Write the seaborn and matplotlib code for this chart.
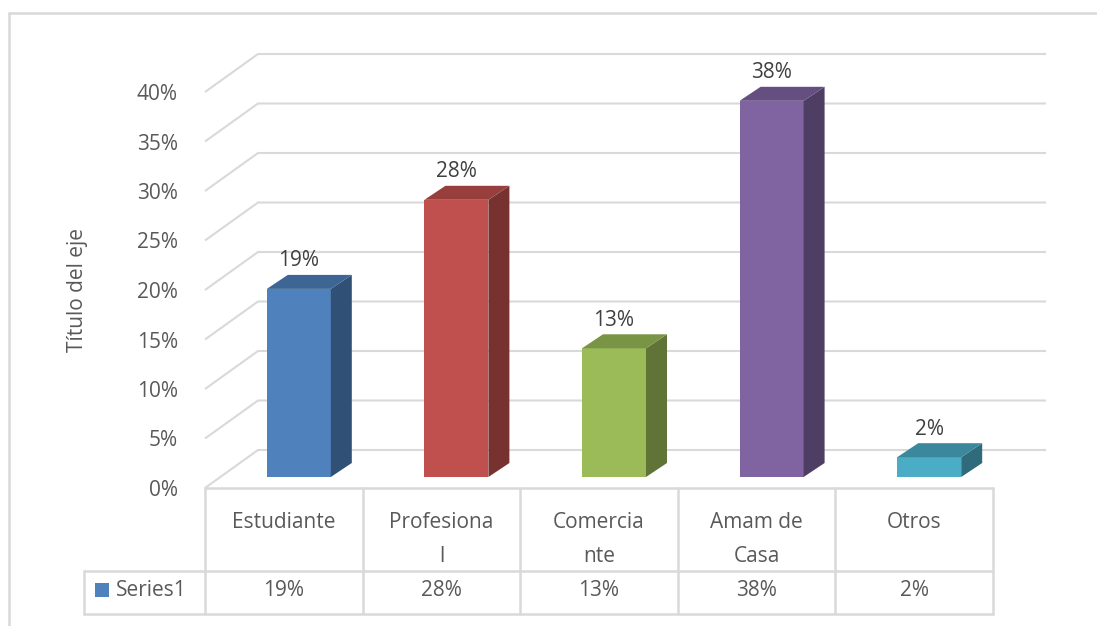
import matplotlib
matplotlib.use("Agg")
import matplotlib.pyplot as plt
import matplotlib.colors as mcolors
from matplotlib.patches import Polygon, Rectangle
from matplotlib.lines import Line2D
import pandas as pd
import seaborn as sns

# ---- data ----
categories = ["Estudiante", "Profesional", "Comerciante", "Amam de Casa", "Otros"]
header_labels = ["Estudiante", "Profesiona\nl", "Comercia\nnte", "Amam de\nCasa", "Otros"]
values = [19, 28, 13, 38, 2]
bar_colors = ["#4F81BD", "#C0504D", "#9BBB59", "#8064A2", "#4BACC6"]
y_ticks = [0, 5, 10, 15, 20, 25, 30, 35, 40]
series_name = "Series1"
axis_title = "Título del eje"

# ---- layout (pixels of the 1097x626 canvas) ----
W, H = 1097, 626
CAT_PX = 157.6          # width of one category on the front plane
PCT_PX = 9.9            # pixels per percentage point
X0_PX, Y0_PX = 205, 488  # front-left corner of the floor

def dx(px):
    return px / CAT_PX

def dy(px):
    return px / PCT_PX

def x_of(px):
    return (px - X0_PX) / CAT_PX - 0.5

def y_of(py):
    return (Y0_PX - py) / PCT_PX

WALL_DX, WALL_DY = dx(53), dy(38)     # full depth of the 3-D box
BAR_SHIFT_X, BAR_SHIFT_Y = dx(15), dy(11)  # front face of the columns
BAR_DX, BAR_DY = dx(21), dy(14)       # depth of each column
BAR_W = 64 / CAT_PX

GRID = "#d9d9d9"
TEXT = "#595959"
FS = 15

sns.set_theme(style="white")
plt.rcParams["font.family"] = ["Open Sans", "DejaVu Sans"]

fig = plt.figure(figsize=(W / 100, H / 100), dpi=100)
fig.patch.set_facecolor("white")
ax = fig.add_axes([0, 0, 1, 1])

df = pd.DataFrame({"cat": categories, "val": values})
sns.barplot(data=df, x="cat", y="val", hue="cat", palette=bar_colors,
            width=BAR_W, saturation=1, legend=False, ax=ax,
            edgecolor="none", linewidth=0, zorder=3)

xmin, xmax = x_of(0), x_of(W)
ymin, ymax = y_of(H), y_of(0)

# back wall gridlines with their receding edge on the left side wall
x_back_right = len(categories) - 0.5 + WALL_DX
for t in y_ticks:
    ax.plot([-0.5, -0.5 + WALL_DX, x_back_right], [t, t + WALL_DY, t + WALL_DY],
            color=GRID, lw=1.5, zorder=1, solid_capstyle="butt")

# columns: move the front faces back into the box, then add side and top faces
bars = sorted(ax.patches, key=lambda p: p.get_x())
for p, v, c in zip(bars, values, bar_colors):
    p.set_x(p.get_x() + BAR_SHIFT_X)
    p.set_y(BAR_SHIFT_Y)
    x0 = p.get_x()
    x1 = x0 + p.get_width()
    y0 = p.get_y()
    y1 = y0 + p.get_height()
    rgb = mcolors.to_rgb(c)
    side = tuple(ch * 0.62 for ch in rgb)
    top = tuple(ch * 0.79 for ch in rgb)
    ax.add_patch(Polygon([(x1, y0), (x1 + BAR_DX, y0 + BAR_DY),
                          (x1 + BAR_DX, y1 + BAR_DY), (x1, y1)],
                         closed=True, facecolor=side, edgecolor="none", zorder=3))
    ax.add_patch(Polygon([(x0, y1), (x1, y1), (x1 + BAR_DX, y1 + BAR_DY),
                          (x0 + BAR_DX, y1 + BAR_DY)],
                         closed=True, facecolor=top, edgecolor="none", zorder=3))
    ax.text((x0 + x1) / 2, y1 + BAR_DY + dy(14), f"{v}%", ha="center",
            va="center", fontsize=FS, color="#404040", zorder=4)

# data table under the floor
row1 = y_of(571)
row2 = y_of(614)
n = len(categories)
ax.plot([-0.5, n - 0.5], [0, 0], color=GRID, lw=1.8, zorder=2)
ax.plot([x_of(84), n - 0.5], [row1, row1], color=GRID, lw=1.8, zorder=2)
ax.plot([x_of(84), n - 0.5], [row2, row2], color=GRID, lw=1.8, zorder=2)
ax.plot([x_of(84), x_of(84)], [row1, row2], color=GRID, lw=1.8, zorder=2)
for k in range(n + 1):
    ax.plot([k - 0.5, k - 0.5], [0, row2], color=GRID, lw=1.8, zorder=2)

for i, (lab, v) in enumerate(zip(header_labels, values)):
    for j, line in enumerate(lab.split("\n")):
        ax.text(i, y_of(523 + 33 * j), line, ha="center", va="center",
                fontsize=FS, color=TEXT)
    ax.text(i, y_of(591), f"{v}%", ha="center", va="center",
            fontsize=FS, color=TEXT)

ax.add_patch(Rectangle((x_of(95), y_of(597)), dx(14), dy(14),
                       facecolor=bar_colors[0], edgecolor="none", zorder=3))
ax.text(x_of(116), y_of(591), series_name, ha="left", va="center",
        fontsize=FS, color=TEXT)

# value axis on the front plane
ax.set_xlim(xmin, xmax)
ax.set_ylim(ymin, ymax)
ax.set_xticks([])
ax.set_xlabel("")
ax.spines["left"].set_position(("data", -0.5))
for s in ax.spines.values():
    s.set_visible(False)
ax.set_yticks(y_ticks)
ax.set_yticklabels([f"{t}%" for t in y_ticks])
ax.tick_params(axis="y", length=0, pad=19.5, labelsize=FS, labelcolor=TEXT)
ax.set_ylabel(axis_title, fontsize=FS, color=TEXT)
ax.yaxis.set_label_coords(88 / W, 1 - 290 / H)
ax.set_facecolor("white")

# chart area border
fig.add_artist(Line2D([9 / W, 9 / W], [0, 1 - 13 / H], transform=fig.transFigure,
                      color=GRID, lw=1.8))
fig.add_artist(Line2D([9 / W, 1], [1 - 13 / H, 1 - 13 / H], transform=fig.transFigure,
                      color=GRID, lw=1.8))

fig.savefig("out.png", dpi=100, facecolor="white")
